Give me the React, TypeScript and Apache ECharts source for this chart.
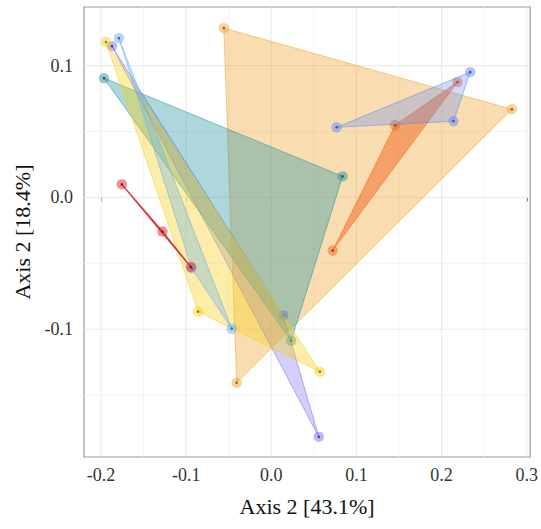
import React, { useEffect, useRef } from "react";
import * as echarts from "echarts";

// ---- data (PCoA coordinates per group) ----
const goldX = [-0.0558, 0.2826, -0.0407];
const goldY = [0.1285, 0.0669, -0.1407];

const tealX = [-0.1965, 0.0837, 0.0233];
const tealY = [0.0905, 0.016, -0.1087];

const yellowX = [-0.1942, -0.086, 0.057];
const yellowY = [0.1179, -0.0867, -0.1323];

const lightBlueX = [-0.179, -0.0935, -0.0465];
const lightBlueY = [0.1209, -0.0538, -0.0996];

const purpleX = [-0.1872, 0.014, 0.0558];
const purpleY = [0.1148, -0.0897, -0.1817];

const redX = [-0.1756, -0.1279, -0.0945];
const redY = [0.0099, -0.0259, -0.0528];

const orangeX = [0.2186, 0.1453, 0.0721];
const orangeY = [0.0875, 0.0548, -0.0403];

const blueX = [0.2337, 0.214, 0.0767];
const blueY = [0.0951, 0.0578, 0.0532];

const xTicks = [-0.2, -0.1, 0.0, 0.1, 0.2, 0.3];
const yTicks = [-0.1, 0.0, 0.1];
const xMinorTicks = [-0.15, -0.05, 0.05, 0.15, 0.25];
const yMinorTicks = [-0.15, -0.05, 0.05];

const X_MIN = -0.22;
const X_MAX = 0.304;
const Y_MIN = -0.197;
const Y_MAX = 0.1445;

type Group = { name: string; xs: number[]; ys: number[]; color: number[]; fillA: number };

const groups: Group[] = [
  { name: "Gold", xs: goldX, ys: goldY, color: [240, 166, 50], fillA: 0.38 },
  { name: "Purple", xs: purpleX, ys: purpleY, color: [125, 110, 240], fillA: 0.33 },
  { name: "Teal", xs: tealX, ys: tealY, color: [40, 150, 158], fillA: 0.38 },
  { name: "Yellow", xs: yellowX, ys: yellowY, color: [247, 208, 25], fillA: 0.38 },
  { name: "LightBlue", xs: lightBlueX, ys: lightBlueY, color: [100, 175, 238], fillA: 0.33 },
  { name: "Red", xs: redX, ys: redY, color: [215, 38, 43], fillA: 0.5 },
  { name: "Orange", xs: orangeX, ys: orangeY, color: [242, 100, 28], fillA: 0.5 },
  { name: "Blue", xs: blueX, ys: blueY, color: [100, 140, 240], fillA: 0.32 },
];

const rgba = (c: number[], a: number) => `rgba(${c[0]},${c[1]},${c[2]},${a})`;
const dark = (c: number[]) => `rgb(${Math.round(c[0] * 0.6)},${Math.round(c[1] * 0.6)},${Math.round(c[2] * 0.6)})`;

const FONT = "Liberation Serif";

export default function App() {
  const ref = useRef<HTMLDivElement>(null);

  useEffect(() => {
    if (!ref.current) return;
    const chart = echarts.init(ref.current, undefined, { renderer: "svg" });

    const gridSeries = {
      type: "custom",
      coordinateSystem: "cartesian2d",
      silent: true,
      data: [[0, 0]],
      renderItem: (params: any, api: any) => {
        const children: any[] = [];
        const addV = (v: number, color: string, w: number) => {
          const p1 = api.coord([v, Y_MIN]);
          const p2 = api.coord([v, Y_MAX]);
          children.push({ type: "line", shape: { x1: p1[0], y1: p1[1], x2: p2[0], y2: p2[1] }, style: { stroke: color, lineWidth: w } });
        };
        const addH = (v: number, color: string, w: number) => {
          const p1 = api.coord([X_MIN, v]);
          const p2 = api.coord([X_MAX, v]);
          children.push({ type: "line", shape: { x1: p1[0], y1: p1[1], x2: p2[0], y2: p2[1] }, style: { stroke: color, lineWidth: w } });
        };
        xMinorTicks.forEach((v) => addV(v, "#f3f3f3", 1));
        yMinorTicks.forEach((v) => addH(v, "#f3f3f3", 1));
        xTicks.forEach((v) => addV(v, "#ebebeb", 1.1));
        yTicks.forEach((v) => addH(v, "#ebebeb", 1.1));
        return { type: "group", children };
      },
    };

    const groupSeries = groups.map((g) => ({
      type: "custom",
      name: g.name,
      coordinateSystem: "cartesian2d",
      data: g.xs.map((x, i) => [x, g.ys[i]]),
      encode: { x: 0, y: 1 },
      renderItem: (params: any, api: any) => {
        if (params.dataIndex !== 0) return { type: "group", children: [] };
        const pts = g.xs.map((x, i) => api.coord([x, g.ys[i]]));
        const children: any[] = [
          {
            type: "polygon",
            shape: { points: pts },
            style: {
              fill: rgba(g.color, g.fillA),
              stroke: rgba(g.color, g.name === "Red" ? 0.9 : 0.55),
              lineWidth: g.name === "Red" ? 1.4 : 1,
            },
          },
        ];
        pts.forEach((p: number[]) => {
          children.push({ type: "circle", shape: { cx: p[0], cy: p[1], r: 5.2 }, style: { fill: rgba(g.color, 0.5) } });
        });
        pts.forEach((p: number[]) => {
          children.push({ type: "circle", shape: { cx: p[0], cy: p[1], r: 1.3 }, style: { fill: dark(g.color) } });
        });
        return { type: "group", children };
      },
    }));

    chart.setOption({
      animation: false,
      backgroundColor: "#ffffff",
      grid: {
        left: 84,
        top: 7,
        right: 7,
        bottom: 72,
        show: true,
        borderColor: "#9a9a9a",
        borderWidth: 1.2,
        backgroundColor: "transparent",
      },
      xAxis: {
        type: "value",
        min: X_MIN,
        max: X_MAX,
        name: "Axis 2 [43.1%]",
        nameLocation: "middle",
        nameGap: 38,
        nameTextStyle: { fontFamily: FONT, fontSize: 22, color: "#111" },
        axisLine: { show: false },
        splitLine: { show: false },
        axisTick: { show: true, length: 4, customValues: xTicks, lineStyle: { color: "#555" } },
        axisLabel: {
          customValues: xTicks,
          margin: 9,
          fontFamily: FONT,
          fontSize: 18,
          color: "#333",
          formatter: (v: number) => v.toFixed(1),
        },
      },
      yAxis: {
        type: "value",
        min: Y_MIN,
        max: Y_MAX,
        name: "Axis 2 [18.4%]",
        nameLocation: "middle",
        nameGap: 44,
        nameTextStyle: { fontFamily: FONT, fontSize: 22, color: "#111" },
        axisLine: { show: false },
        splitLine: { show: false },
        axisTick: { show: true, length: 4, customValues: yTicks, lineStyle: { color: "#555" } },
        axisLabel: {
          customValues: yTicks,
          margin: 11,
          fontFamily: FONT,
          fontSize: 18,
          color: "#333",
          formatter: (v: number) => v.toFixed(1),
        },
      },
      series: [gridSeries, ...groupSeries],
    });

    return () => chart.dispose();
  }, []);

  return (
    <div
      ref={ref}
      style={{ position: "fixed", left: 0, top: 0, width: 541, height: 529, background: "#fff" }}
    />
  );
}
